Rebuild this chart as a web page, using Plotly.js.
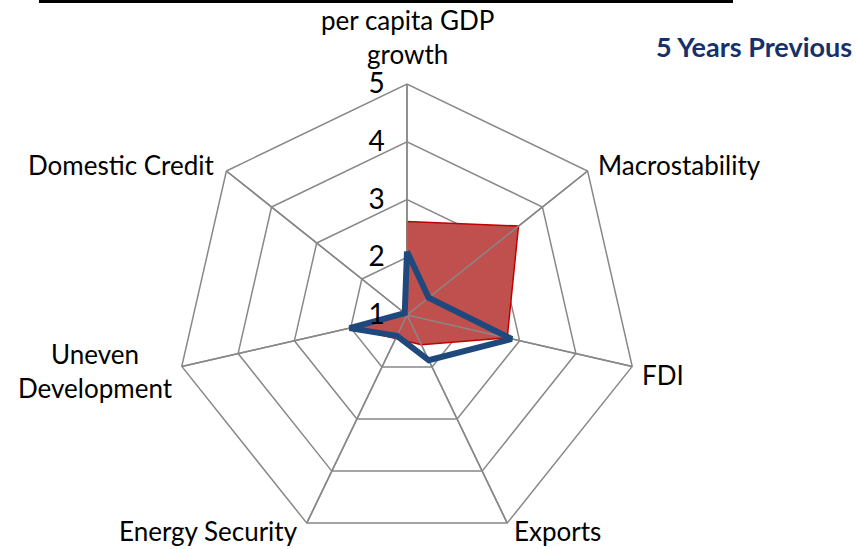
<!DOCTYPE html>
<html>
<head>
<meta charset="utf-8">
<script src="https://cdn.plot.ly/plotly-3.0.1.min.js"></script>
<style>html,body{margin:0;padding:0;background:#fff;}#chart{width:856px;height:549px;}</style>
</head>
<body>
<div id="chart"></div>
<script>
var categories = ["per capita GDP growth", "Macrostability", "FDI", "Exports", "Energy Security", "Uneven Development", "Domestic Credit"];
var categoryLabels = ["per capita GDP<br>growth", "Macrostability", "FDI", "Exports", "Energy Security", "Uneven<br>Development", "Domestic Credit"];
var currentValues = [2.62, 3.47, 2.78, 1.57, 1.45, 2.0, 1.0];
var previousValues = [2.1, 1.48, 2.86, 1.87, 1.4, 2.02, 1.05];
var radialTicks = [1, 2, 3, 4, 5];
var legendLabel = "5 Years Previous";

// layout-only: label anchor positions in pixels (x, y, xanchor)
var labelPlacement = [[407, 37, "center"], [596, 165, "left"], [640, 375, "left"], [512, 531, "left"], [300, 531, "right"], [95, 371, "center"], [217, 165, "right"]];

var rMin = radialTicks[0], rMax = radialTicks[radialTicks.length - 1];
var W = 856, H = 549, cx = 407, cy = 315, R = 231;

function closed(a) { return a.concat([a[0]]); }

var traces = [];
traces.push({
  type: "scatterpolar", r: closed(currentValues), theta: closed(categories),
  mode: "lines", fill: "toself", fillcolor: "rgb(192,80,77)",
  line: {color: "#C00000", width: 1.5}, showlegend: false, hoverinfo: "skip"
});
categories.forEach(function (c) {
  traces.push({
    type: "scatterpolar", r: [rMin, rMax], theta: [c, c], mode: "lines",
    line: {color: "#888888", width: 1.5}, showlegend: false, hoverinfo: "skip"
  });
});
traces.push({
  type: "scatterpolar", r: closed(previousValues), theta: closed(categories),
  mode: "lines", line: {color: "#1F497D", width: 6, shape: "linear"},
  name: legendLabel, showlegend: false
});

var annotations = categoryLabels.map(function (t, i) {
  var p = labelPlacement[i];
  return {
    text: t, xref: "paper", yref: "paper", x: p[0] / W, y: 1 - p[1] / H,
    xanchor: p[2], yanchor: "middle", align: "center", showarrow: false,
    font: {size: 26, color: "#000000"}
  };
});
annotations.push({
  text: "<b>" + legendLabel + "</b>", xref: "paper", yref: "paper",
  x: 1 - 2 / W, y: 1 - 46 / H, xanchor: "right", yanchor: "middle",
  showarrow: false, font: {size: 27, color: "#17306B"}
});

var layout = {
  width: W, height: H,
  margin: {l: 0, r: 0, t: 0, b: 0},
  paper_bgcolor: "#ffffff",
  font: {family: "Lato, 'Open Sans', sans-serif", color: "#000000"},
  showlegend: false,
  polar: {
    domain: {x: [(cx - R) / W, (cx + R) / W], y: [(H - cy - R) / H, (H - cy + R) / H]},
    gridshape: "linear",
    bgcolor: "rgba(0,0,0,0)",
    angularaxis: {
      type: "category", categoryarray: categories,
      direction: "clockwise", rotation: 90,
      showline: true, linecolor: "#888888", linewidth: 1.5,
      showgrid: true, gridcolor: "#888888", gridwidth: 1.5,
      ticks: "", showticklabels: false
    },
    radialaxis: {
      range: [rMin, rMax], angle: 90, side: "counterclockwise",
      tickvals: radialTicks, ticktext: radialTicks.map(String),
      showline: false, showgrid: true, gridcolor: "#888888", gridwidth: 1.5,
      ticks: "outside", ticklen: 12, tickcolor: "rgba(0,0,0,0)",
      tickangle: 90, tickfont: {size: 28, color: "#000000"}
    }
  },
  shapes: [{
    type: "line", xref: "paper", yref: "paper",
    x0: 39 / W, x1: 733 / W, y0: 1 - 1.5 / H, y1: 1 - 1.5 / H,
    line: {color: "#000000", width: 3}
  }],
  annotations: annotations
};

Plotly.newPlot("chart", traces, layout, {displayModeBar: false, staticPlot: true});
</script>
</body>
</html>
